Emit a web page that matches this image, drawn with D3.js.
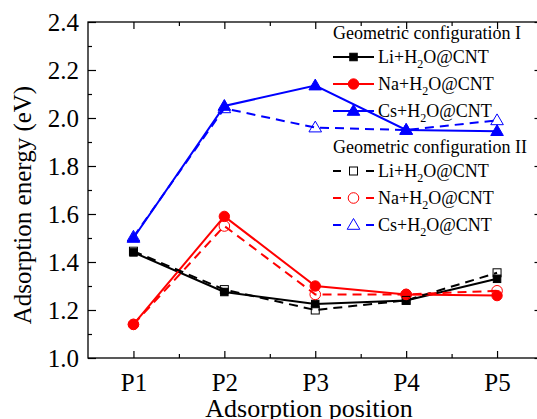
<!DOCTYPE html>
<html>
<head>
<meta charset="utf-8">
<script src="https://cdn.jsdelivr.net/npm/d3@7"></script>
<style>
  body { margin: 0; background: #fff; }
  svg { display: block; font-family: "Liberation Serif", "Times New Roman", serif; }
</style>
</head>
<body>
<svg id="chart" width="537" height="419"></svg>
<script>
var positions = ["P1", "P2", "P3", "P4", "P5"]
var yTicks = [1.0, 1.2, 1.4, 1.6, 1.8, 2.0, 2.2, 2.4]

// geometric configuration I
var liI = [1.44, 1.275, 1.225, 1.24, 1.33]
var naI = [1.14, 1.59, 1.30, 1.265, 1.26]
var csI = [1.50, 2.05, 2.135, 1.95, 1.945]
// geometric configuration II
var liII = [1.445, 1.285, 1.20, 1.24, 1.355]
var naII = [1.14, 1.55, 1.265, 1.265, 1.28]
var csII = [1.505, 2.04, 1.96, 1.95, 1.99]

var groups = ["Geometric configuration I", "Geometric configuration II"]
var elements = ["Li", "Na", "Cs"]
var colours = ["#000000", "#ff0000", "#0000ff"]
var shapes = ["square", "circle", "triangle"]

var series = [
    {values: liI, el: 0, group: 0},
    {values: naI, el: 1, group: 0},
    {values: csI, el: 2, group: 0},
    {values: liII, el: 0, group: 1},
    {values: naII, el: 1, group: 1},
    {values: csII, el: 2, group: 1}
]

var plotLeft = 88, plotRight = 542.5, plotTop = 22, plotBottom = 358

var svg = d3.select("#chart")

var x = d3.scaleLinear().domain([0.5, positions.length + 0.5]).range([plotLeft, plotRight])
var y = d3.scaleLinear().domain([1.0, 2.4]).range([plotBottom, plotTop])

// frame
svg.append("rect")
    .attr("x", plotLeft).attr("y", plotTop)
    .attr("width", plotRight - plotLeft).attr("height", plotBottom - plotTop)
    .attr("fill", "none")
    .attr("stroke", "#000")
    .attr("stroke-width", 1.3)

function tidy(g) {
    g.select(".domain").remove()
    g.selectAll("line").attr("stroke", "#000").attr("stroke-width", 1.2)
}

var minorY = d3.range(1.1, 2.4, 0.2)
var minorX = d3.range(1.5, positions.length, 1)

// left axis
svg.append("g").attr("transform", "translate(" + plotLeft + ",0)")
    .call(d3.axisLeft(y).tickValues(yTicks).tickSize(-8).tickPadding(9).tickFormat(d3.format(".1f")))
    .call(tidy)
    .selectAll("text")
        .attr("font-size", 25)
        .attr("font-family", "Liberation Serif")
        .attr("fill", "#000")
svg.append("g").attr("transform", "translate(" + plotLeft + ",0)")
    .call(d3.axisLeft(y).tickValues(minorY).tickSize(-4).tickFormat(""))
    .call(tidy)
// right axis
svg.append("g").attr("transform", "translate(" + plotRight + ",0)")
    .call(d3.axisRight(y).tickValues(yTicks).tickSize(-8).tickFormat(""))
    .call(tidy)
svg.append("g").attr("transform", "translate(" + plotRight + ",0)")
    .call(d3.axisRight(y).tickValues(minorY).tickSize(-4).tickFormat(""))
    .call(tidy)

// bottom axis
svg.append("g").attr("transform", "translate(0," + plotBottom + ")")
    .call(d3.axisBottom(x).tickValues(d3.range(1, positions.length + 1)).tickSize(-7).tickPadding(15)
        .tickFormat(d => positions[d - 1]))
    .call(tidy)
    .selectAll("text")
        .attr("font-size", 25)
        .attr("font-family", "Liberation Serif")
        .attr("fill", "#000")
svg.append("g").attr("transform", "translate(0," + plotBottom + ")")
    .call(d3.axisBottom(x).tickValues(minorX).tickSize(-4).tickFormat(""))
    .call(tidy)
// top axis
svg.append("g").attr("transform", "translate(0," + plotTop + ")")
    .call(d3.axisTop(x).tickValues(d3.range(1, positions.length + 1)).tickSize(-7).tickFormat(""))
    .call(tidy)
svg.append("g").attr("transform", "translate(0," + plotTop + ")")
    .call(d3.axisTop(x).tickValues(minorX).tickSize(-4).tickFormat(""))
    .call(tidy)

// axis titles
svg.append("text")
    .attr("x", 309).attr("y", 417)
    .attr("text-anchor", "middle")
    .attr("font-size", 26)
    .text("Adsorption position")
svg.append("text")
    .attr("transform", "translate(31,205) rotate(-90)")
    .attr("text-anchor", "middle")
    .attr("font-size", 25)
    .text("Adsorption energy (eV)")

function marker(sel, shape, open, colour) {
    var fill = open ? "#fff" : colour
    var fillOp = open ? 0 : 1
    if (shape == "square") {
        var s = open ? 8 : 7.5
        sel.append("rect").attr("x", -s / 2).attr("y", -s / 2).attr("width", s).attr("height", s)
            .attr("fill", fill).attr("fill-opacity", fillOp).attr("stroke", colour).attr("stroke-width", 1)
    } else if (shape == "circle") {
        sel.append("circle").attr("r", open ? 5.3 : 5.2)
            .attr("fill", fill).attr("fill-opacity", fillOp).attr("stroke", colour).attr("stroke-width", 1)
    } else {
        sel.append("path").attr("d", "M0,-6.5L6.3,4.3L-6.3,4.3Z")
            .attr("fill", fill).attr("fill-opacity", fillOp).attr("stroke", colour).attr("stroke-width", 1)
    }
}

var line = d3.line()
    .x((d, i) => x(i + 1))
    .y(d => y(d))

series.forEach(function(s) {
    var colour = colours[s.el]
    svg.append("path")
        .datum(s.values)
        .attr("d", line)
        .attr("fill", "none")
        .attr("stroke", colour)
        .attr("stroke-width", 2)
        .attr("stroke-dasharray", s.group == 1 ? "9,6" : null)
    svg.append("g").selectAll("g")
        .data(s.values)
        .enter()
        .append("g")
            .attr("transform", (d, i) => "translate(" + x(i + 1) + "," + y(d) + ")")
            .each(function() { marker(d3.select(this), shapes[s.el], s.group == 1, colour) })
})

// legend
var legend = svg.append("g").attr("font-size", 18)
var headerY = [33, 147]
groups.forEach(function(name, gi) {
    legend.append("text")
        .attr("x", 333).attr("y", headerY[gi] + 6)
        .text(name)
    elements.forEach(function(el, i) {
        var cy = headerY[gi] + 24 + i * 27
        var row = legend.append("g").attr("transform", "translate(0," + cy + ")")
        if (gi == 0) {
            row.append("line").attr("x1", 333).attr("x2", 374)
                .attr("stroke", colours[i]).attr("stroke-width", 2)
        } else {
            row.append("line").attr("x1", 333).attr("x2", 341)
                .attr("stroke", colours[i]).attr("stroke-width", 2)
            row.append("line").attr("x1", 366).attr("x2", 374)
                .attr("stroke", colours[i]).attr("stroke-width", 2)
        }
        marker(row.append("g").attr("transform", "translate(353.5,0)"), shapes[i], gi == 1, colours[i])
        var t = row.append("text").attr("x", 378).attr("y", 6)
        t.append("tspan").text(el + "+H")
        t.append("tspan").attr("font-size", 12).attr("dy", 5).text("2")
        t.append("tspan").attr("dy", -5).text("O@CNT")
    })
})
</script>
</body>
</html>
